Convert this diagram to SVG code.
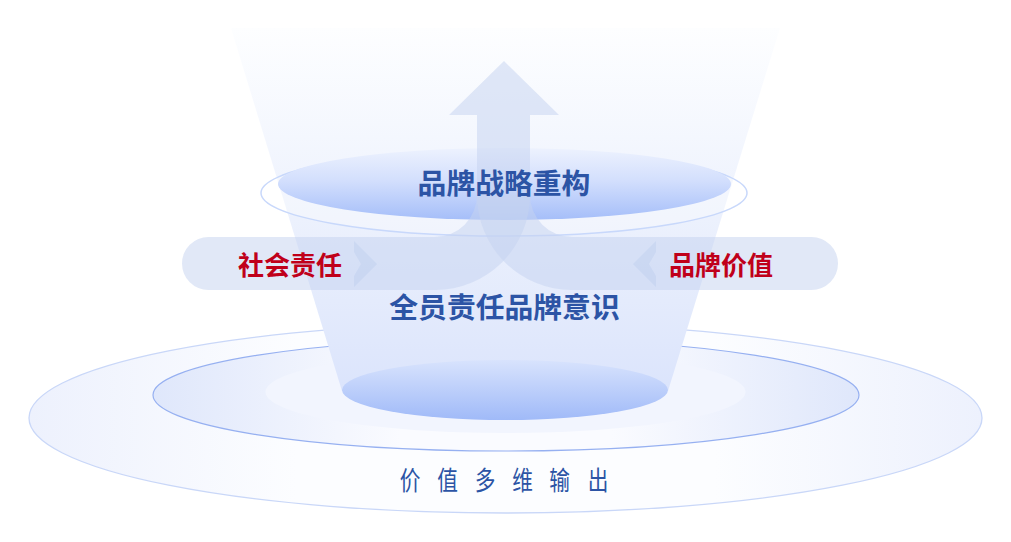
<svg xmlns="http://www.w3.org/2000/svg" width="1011" height="542" viewBox="0 0 1011 542">
  <defs>
    <linearGradient id="outerFill" x1="0" y1="0" x2="1" y2="0">
      <stop offset="0" stop-color="#edf1fd"/>
      <stop offset="0.28" stop-color="#fcfdff"/>
      <stop offset="0.72" stop-color="#fcfdff"/>
      <stop offset="1" stop-color="#edf1fd"/>
    </linearGradient>
    <linearGradient id="midFill" x1="0" y1="0" x2="1" y2="0">
      <stop offset="0" stop-color="#dfe7fb"/>
      <stop offset="0.35" stop-color="#fafbff"/>
      <stop offset="0.65" stop-color="#fafbff"/>
      <stop offset="1" stop-color="#dfe7fb"/>
    </linearGradient>
    <linearGradient id="funnelFill" gradientUnits="userSpaceOnUse" x1="0" y1="28" x2="0" y2="392">
      <stop offset="0" stop-color="#fdfeff"/>
      <stop offset="0.3" stop-color="#f4f7fe"/>
      <stop offset="0.75" stop-color="#e4ebfc"/>
      <stop offset="1" stop-color="#dbe4fc"/>
    </linearGradient>
    <linearGradient id="upDisc" x1="0" y1="0" x2="0" y2="1">
      <stop offset="0" stop-color="#edf2fe"/>
      <stop offset="0.45" stop-color="#d3dffd"/>
      <stop offset="1" stop-color="#a5bef9"/>
    </linearGradient>
    <linearGradient id="lowDisc" x1="0" y1="0" x2="0" y2="1">
      <stop offset="0" stop-color="#d8e3fd"/>
      <stop offset="1" stop-color="#a0baf8"/>
    </linearGradient>
    <style>
      .band { fill: #c5d3ef; fill-opacity: 0.52; }
      .chev { fill: #c3d2f0; fill-opacity: 0.6; }
      .blue { font-family: "Noto Sans CJK SC", "Noto Sans", sans-serif; fill: #2c54a5; font-weight: 700; text-anchor: middle; }
      .red { font-family: "Noto Sans CJK SC", "Noto Sans", sans-serif; fill: #c0001a; font-weight: 700; text-anchor: middle; }
      .out { font-family: "Noto Sans CJK SC", "Noto Sans", sans-serif; fill: #2c54a5; font-weight: 400; text-anchor: middle; }
    </style>
  </defs>

  <g id="base-rings">
    <ellipse cx="505.5" cy="418" rx="476.5" ry="95" fill="url(#outerFill)" stroke="#c9d7f8" stroke-width="1.3"/>
    <ellipse cx="506" cy="395" rx="353" ry="56" fill="url(#midFill)" stroke="#96b0f1" stroke-width="1.2"/>
    <ellipse cx="505.5" cy="392" rx="240" ry="41" fill="#f2f5fe"/>
  </g>

  <g id="funnel">
    <polygon points="231,28 780,28 668,391 342,391" fill="url(#funnelFill)"/>
  </g>

  <g id="node-base">
    <ellipse cx="505" cy="390" rx="163" ry="30" fill="url(#lowDisc)"/>
    <text class="blue" x="504.5" y="318" font-size="28.8">全员责任品牌意识</text>
  </g>

  <g id="node-top">
    <ellipse cx="504" cy="193" rx="243" ry="43" fill="#ffffff" fill-opacity="0.3" stroke="#c8d8fb" stroke-width="1.5"/>
    <ellipse cx="504.5" cy="184" rx="226.5" ry="36" fill="url(#upDisc)"/>
  </g>

  <g id="connectors">
    <path class="band" d="M504,61 L559,115 L530,115 L530,195 L477,195 L477,115 L449,115 Z"/>
    <path class="band" d="M477,195 A42,42 0 0 1 435,237 L208.5,237 A26.5,26.5 0 0 0 208.5,290 L435,290 A95,95 0 0 0 530,195 Z"/>
    <path class="band" d="M530,195 A42,42 0 0 0 572,237 L811.5,237 A26.5,26.5 0 0 1 811.5,290 L572,290 A95,95 0 0 1 477,195 Z"/>
    <polygon class="chev" points="354,241 377,264 354,287 354,276 361,264 354,252"/>
    <polygon class="chev" points="656,241 633,264 656,287 656,276 649,264 656,252"/>
  </g>

  <g id="label-top">
    <text class="blue" x="504" y="194" font-size="28.8">品牌战略重构</text>
  </g>
  <g id="label-left">
    <text class="red" x="290" y="274.5" font-size="26">社会责任</text>
  </g>
  <g id="label-right">
    <text class="red" x="721" y="274.5" font-size="26">品牌价值</text>
  </g>
  <g id="label-bottom">
    <text class="out" font-size="26.5" transform="scale(0.78,1)" y="490" x="525.6 573.7 621.8 669.9 717.3 766.7">价值多维输出</text>
  </g>
</svg>
